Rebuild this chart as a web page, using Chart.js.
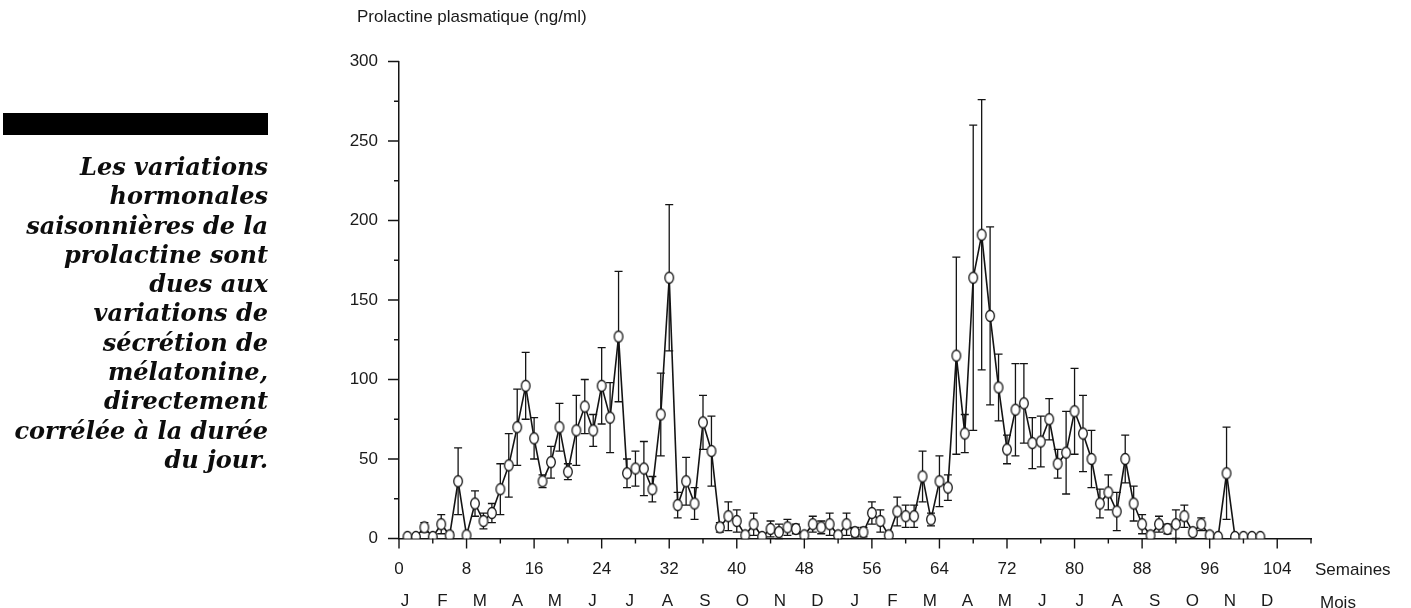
<!DOCTYPE html>
<html>
<head>
<meta charset="utf-8">
<script src="https://cdn.jsdelivr.net/npm/chart.js@4.4.1/dist/chart.umd.min.js"></script>
<style>
  html, body { margin: 0; padding: 0; background: #fff; }
  #wrap { position: relative; width: 1411px; height: 608px; overflow: hidden; }
  #prlChart { position: absolute; left: 0; top: 0; }
  #bar { position: absolute; left: 3px; top: 113px; width: 265px; height: 22px; background: #000; }
  #caption {
    position: absolute; right: 1143px; top: 152px; white-space: nowrap; text-align: right;
    font-family: 'DejaVu Serif', serif; font-weight: bold; font-style: italic;
    font-size: 24px; line-height: 29.3px; color: #0d0d0d;
  }
  #ytitle { position: absolute; left: 357px; top: 7px; font-family: 'Liberation Sans', Arial, sans-serif; font-size: 17px; color: #1a1a1a; }
</style>
</head>
<body>
<div id="wrap">
  <canvas id="prlChart" width="1411" height="608"></canvas>
  <div id="bar"></div>
  <div id="caption">Les variations<br>hormonales<br>saisonnières de la<br>prolactine sont<br>dues aux<br>variations de<br>sécrétion de<br>mélatonine,<br>directement<br>corrélée à la durée<br>du jour.</div>
  <div id="ytitle">Prolactine plasmatique (ng/ml)</div>
</div>
<script>
// weeks of sampling (x) and mean plasma prolactin (ng/ml) with its SEM
const weeks = [
  1, 2, 3, 4, 5, 6, 7, 8, 9, 10, 11, 12, 13, 14, 15, 16, 17, 18, 19, 20,
  21, 22, 23, 24, 25, 26, 27, 28, 29, 30, 31, 32, 33, 34, 35, 36, 37, 38, 39, 40,
  41, 42, 43, 44, 45, 46, 47, 48, 49, 50, 51, 52, 53, 54, 55, 56, 57, 58, 59, 60,
  61, 62, 63, 64, 65, 66, 67, 68, 69, 70, 71, 72, 73, 74, 75, 76, 77, 78, 79, 80,
  81, 82, 83, 84, 85, 86, 87, 88, 89, 90, 91, 92, 93, 94, 95, 96, 97, 98, 99, 100,
  101, 102
];
const prolactin = [
  1, 1, 7, 1, 9, 2, 36, 2, 22, 11, 16, 31, 46, 70, 96, 63, 36, 48, 70, 42,
  68, 83, 68, 96, 76, 127, 41, 44, 44, 31, 78, 164, 21, 36, 22, 73, 55, 7, 14, 11,
  2, 9, 1, 6, 4, 7, 6, 2, 9, 7, 9, 2, 9, 4, 4, 16, 11, 2, 17, 14,
  14, 39, 12, 36, 32, 115, 66, 164, 191, 140, 95, 56, 81, 85, 60, 61, 75, 47, 54, 80,
  66, 50, 22, 29, 17, 50, 22, 9, 2, 9, 6, 9, 14, 4, 9, 2, 1, 41, 1, 1,
  1, 1
];
const sem = [
  0, 0, 3, 0, 6, 2, 21, 1, 8, 5, 6, 16, 20, 24, 21, 13, 4, 10, 15, 5,
  22, 17, 10, 24, 22, 41, 9, 11, 17, 8, 26, 46, 8, 15, 10, 17, 22, 3, 9, 7,
  2, 7, 1, 5, 5, 5, 3, 2, 5, 4, 7, 2, 7, 3, 3, 7, 7, 2, 9, 7,
  7, 16, 4, 16, 8, 62, 12, 96, 85, 56, 21, 9, 29, 25, 16, 16, 13, 9, 26, 27,
  24, 18, 9, 11, 12, 15, 11, 6, 2, 5, 3, 9, 7, 2, 4, 2, 1, 29, 0, 0,
  0, 0
];
const monthLabels = ['J', 'F', 'M', 'A', 'M', 'J', 'J', 'A', 'S', 'O', 'N', 'D',
                     'J', 'F', 'M', 'A', 'M', 'J', 'J', 'A', 'S', 'O', 'N', 'D'];
const monthStep = 4.44;   // weeks per month label
const monthStart = 0.7;

const ink = '#141414';

// open ring marker, a bit taller than wide like in the print
function makeRing() {
  const c = document.createElement('canvas');
  c.width = 12; c.height = 14;
  const g = c.getContext('2d');
  g.beginPath();
  g.ellipse(6, 7, 4.3, 5.5, 0, 0, Math.PI * 2);
  g.fillStyle = '#fff';
  g.fill();
  g.lineWidth = 1.3;
  g.strokeStyle = ink;
  g.stroke();
  return c;
}

const errorBars = {
  id: 'errorBars',
  beforeDatasetsDraw(chart) {
    const { ctx, scales: { x, y } } = chart;
    ctx.save();
    ctx.strokeStyle = ink;
    ctx.lineWidth = 1.3;
    weeks.forEach((w, i) => {
      const e = sem[i];
      if (e < 2) return;
      const px = x.getPixelForValue(w);
      const top = y.getPixelForValue(prolactin[i] + e);
      const bot = y.getPixelForValue(Math.max(prolactin[i] - e, 0));
      ctx.beginPath();
      ctx.moveTo(px, top); ctx.lineTo(px, bot);
      ctx.moveTo(px - 4, top); ctx.lineTo(px + 4, top);
      ctx.moveTo(px - 4, bot); ctx.lineTo(px + 4, bot);
      ctx.stroke();
    });
    ctx.restore();
  }
};

// major / minor tick marks and the unit names at the right end of the axes
const axisDecor = {
  id: 'axisDecor',
  afterDraw(chart) {
    const { ctx, scales: { x, y, m } } = chart;
    ctx.save();
    ctx.strokeStyle = ink;
    ctx.lineWidth = 1.4;
    ctx.beginPath();
    for (let v = 0; v <= 300; v += 25) {
      const py = y.getPixelForValue(v);
      ctx.moveTo(x.left, py);
      ctx.lineTo(x.left - (v % 50 === 0 ? 11 : 5), py);
    }
    for (let w = 0; w <= 108; w += 4) {
      const px = x.getPixelForValue(w);
      ctx.moveTo(px, y.bottom);
      ctx.lineTo(px, y.bottom + (w % 8 === 0 && w <= 104 ? 10 : 5));
    }
    ctx.stroke();
    ctx.fillStyle = '#1a1a1a';
    ctx.font = "17px 'Liberation Sans', Arial, sans-serif";
    ctx.textAlign = 'left';
    ctx.textBaseline = 'middle';
    ctx.fillText('Semaines', x.right + 4, x.top + 32);
    ctx.fillText('Mois', x.right + 9, m.top + 20);
    ctx.restore();
  }
};

Chart.defaults.font.family = "'Liberation Sans', Arial, sans-serif";
Chart.defaults.font.size = 17;
Chart.defaults.color = '#1a1a1a';

const ctx = document.getElementById('prlChart').getContext('2d');
new Chart(ctx, {
  type: 'line',
  data: {
    datasets: [{
      label: 'Prolactine',
      data: weeks.map((w, i) => ({ x: w, y: prolactin[i] })),
      xAxisID: 'x',
      yAxisID: 'y',
      borderColor: ink,
      borderWidth: 1.6,
      tension: 0,
      pointStyle: makeRing(),
      pointRadius: 5
    }]
  },
  options: {
    responsive: false,
    animation: false,
    events: [],
    layout: { padding: { top: 61.5, right: 100, bottom: 0, left: 0 } },
    plugins: { legend: { display: false }, tooltip: { enabled: false } },
    scales: {
      x: {
        type: 'linear', position: 'bottom', weight: 1,
        min: 0, max: 108,
        afterFit: (s) => { s.height = 45; },
        grid: { display: false, drawTicks: false },
        border: { display: true, color: ink, width: 1.5 },
        ticks: {
          stepSize: 4, autoSkip: false, maxRotation: 0, padding: 21,
          callback: (v) => (v % 8 === 0 && v <= 104 ? String(v) : '')
        }
      },
      m: {
        type: 'linear', position: 'bottom', weight: 2,
        min: 0, max: 108,
        afterFit: (s) => { s.height = 24.5; },
        afterBuildTicks: (s) => {
          s.ticks = monthLabels.map((_, i) => ({ value: monthStart + i * monthStep }));
        },
        grid: { display: false, drawTicks: false },
        border: { display: false },
        ticks: {
          autoSkip: false, maxRotation: 0, padding: 8,
          callback: (v, i) => monthLabels[i]
        }
      },
      y: {
        type: 'linear', min: 0, max: 300,
        afterFit: (s) => { s.width = 399; },
        grid: { display: false, drawTicks: false },
        border: { display: true, color: ink, width: 1.5 },
        ticks: {
          stepSize: 25, autoSkip: false, padding: 21,
          callback: (v) => (v % 50 === 0 ? String(v) : '')
        }
      }
    }
  },
  plugins: [errorBars, axisDecor]
});
</script>
</body>
</html>
